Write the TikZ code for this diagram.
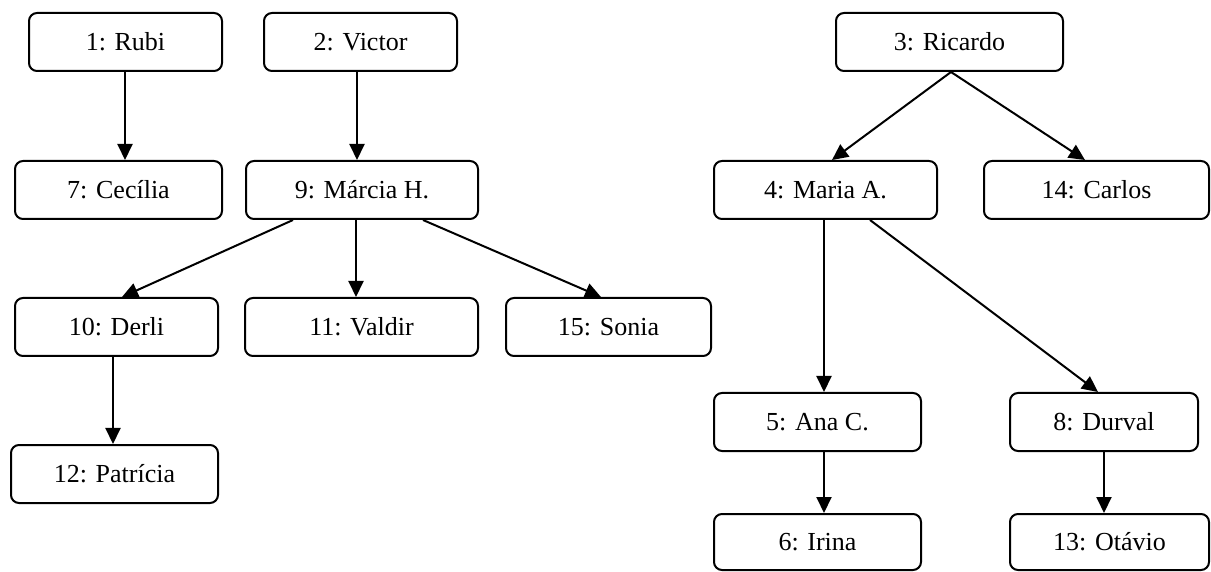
\documentclass[tikz,border=0pt]{standalone}
\usepackage{fontspec}
\setmainfont{Liberation Serif}
\usetikzlibrary{arrows.meta,calc}
\begin{document}
\begin{tikzpicture}[x=0.5pt,y=-0.5pt,
  box/.style={draw, line width=1pt, rounded corners=4pt, minimum height=29pt,
    inner sep=0pt, font=\fontsize{13}{15.6}\selectfont},
  link/.style={line width=1pt, -{Triangle[length=8pt,width=7.5pt]}}]
\useasboundingbox (0,0) rectangle (1211,572);
% left trees
\node[box, minimum width=96.5pt]  (n1)  at (125.5,42)  {1: Rubi};
\node[box, minimum width=96.5pt]  (n2)  at (360.5,42)  {2: Victor};
\node[box, minimum width=103.5pt] (n7)  at (118.5,190) {7: Cecília};
\node[box, minimum width=116pt]   (n9)  at (362,190)   {9: Márcia H.};
\node[box, minimum width=101.5pt] (n10) at (116.5,327) {10: Derli};
\node[box, minimum width=116.5pt] (n11) at (361.5,327) {11: Valdir};
\node[box, minimum width=102.5pt] (n15) at (608.5,327) {15: Sonia};
\node[box, minimum width=103.5pt] (n12) at (114.5,474) {12: Patrícia};
% right tree
\node[box, minimum width=113.5pt] (n3)  at (949.5,42)  {3: Ricardo};
\node[box, minimum width=111.5pt] (n4)  at (825.5,190) {4: Maria A.};
\node[box, minimum width=112.5pt] (n14) at (1096.5,190){14: Carlos};
\node[box, minimum width=103.5pt] (n5)  at (817.5,422) {5: Ana C.};
\node[box, minimum width=94pt]    (n8)  at (1104,422)  {8: Durval};
\node[box, minimum width=103.5pt, minimum height=28pt] (n6) at (817.5,542) {6: Irina};
\node[box, minimum width=99.5pt, minimum height=28pt]  (n13) at (1109.5,542) {13: Otávio};
% connectors
\draw[link] ($(n1.south)+(-0.5,0)$) -- ($(n7.north)+(6.5,0)$);
\draw[link] ($(n2.south)+(-3.5,0)$) -- ($(n9.north)+(-5,0)$);
\draw[link] ($(n9.south)+(-69,0)$) -- ($(n10.north)+(5.5,0)$);
\draw[link] ($(n9.south)+(-6,0)$) -- ($(n11.north)+(-5.5,0)$);
\draw[link] ($(n9.south)+(61,0)$) -- ($(n15.north)+(-7.5,0)$);
\draw[link] ($(n10.south)+(-3.5,0)$) -- ($(n12.north)+(-1.5,0)$);
\draw[link] ($(n3.south)+(1.5,0)$) -- ($(n4.north)+(6.5,0)$);
\draw[link] ($(n3.south)+(1.5,0)$) -- ($(n14.north)+(-11.5,0)$);
\draw[link] ($(n4.south)+(-1.5,0)$) -- ($(n5.north)+(6.5,0)$);
\draw[link] ($(n4.south)+(44.5,0)$) -- ($(n8.north)+(-6,0)$);
\draw[link] ($(n5.south)+(6.5,0)$) -- ($(n6.north)+(6.5,0)$);
\draw[link] ($(n8.south)+(0,0)$) -- ($(n13.north)+(-5.5,0)$);
\end{tikzpicture}
\end{document}
